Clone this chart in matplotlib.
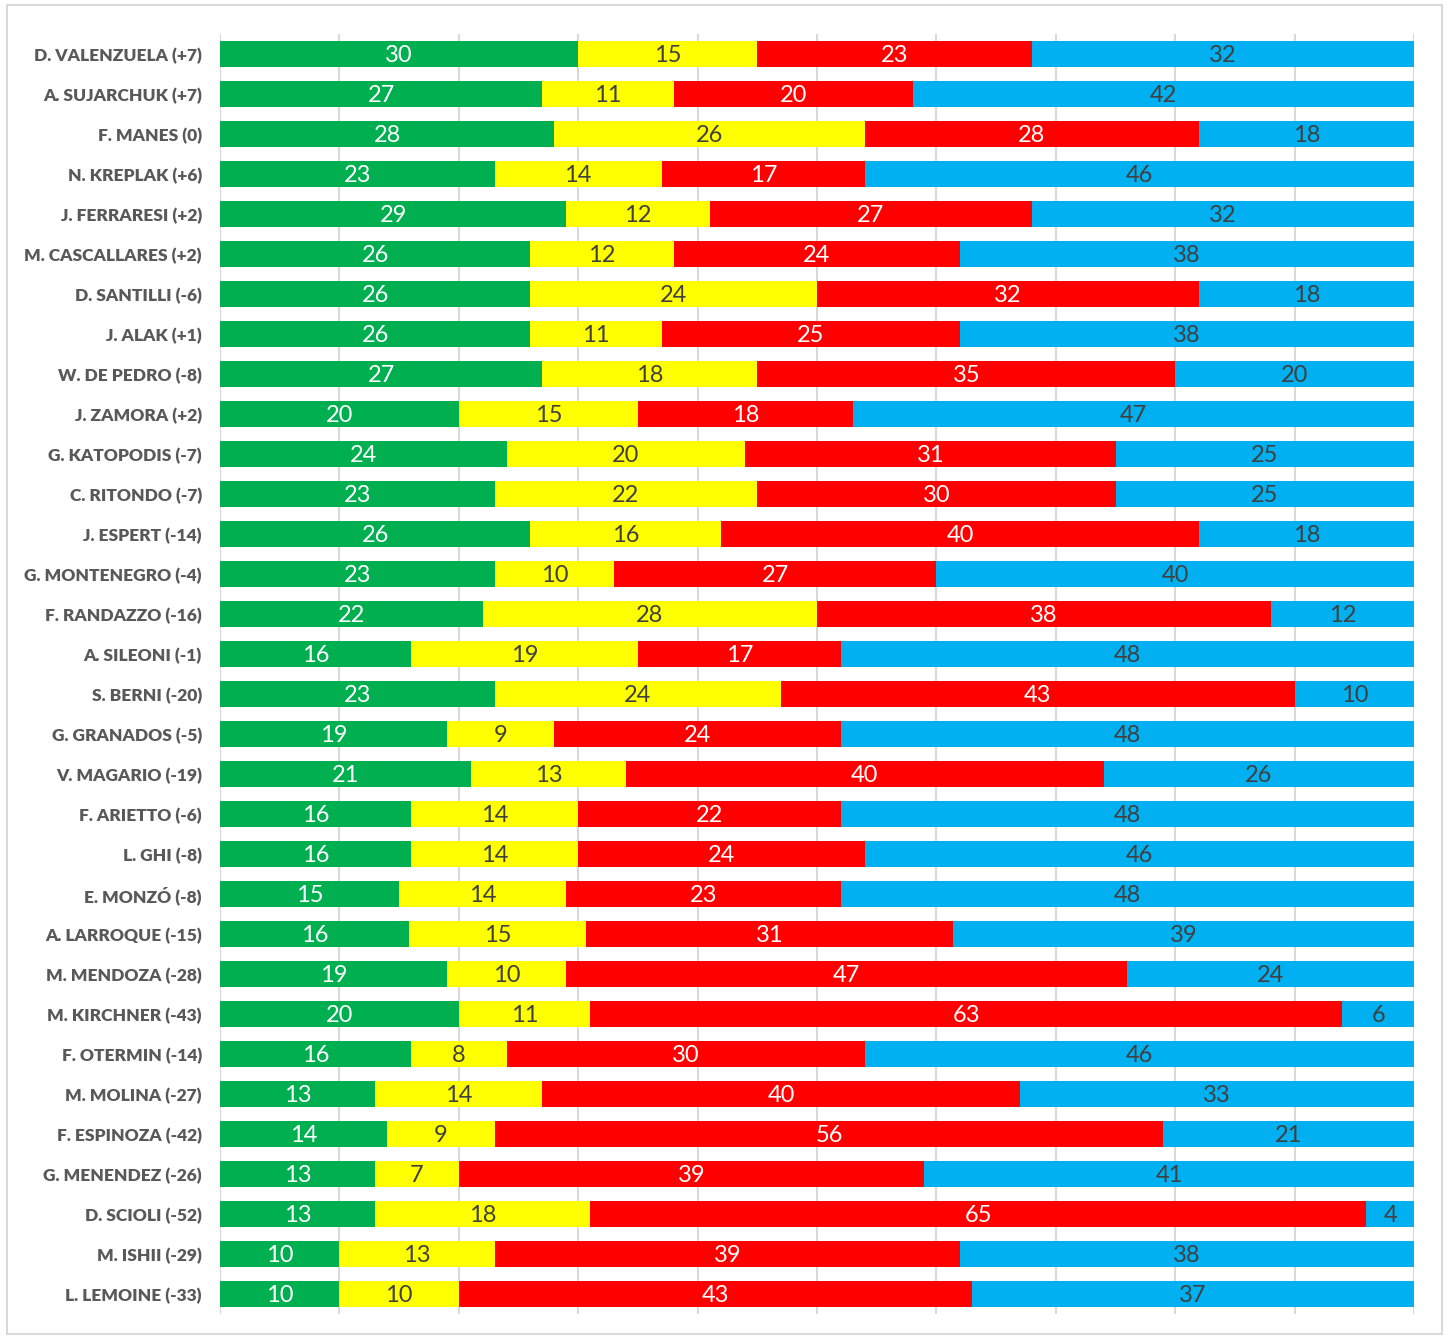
import matplotlib
matplotlib.use("Agg")
import matplotlib.pyplot as plt
import numpy as np
from matplotlib.patches import Rectangle

names = ["D. VALENZUELA (+7)", "A. SUJARCHUK (+7)", "F. MANES (0)", "N. KREPLAK (+6)",
         "J. FERRARESI (+2)", "M. CASCALLARES (+2)", "D. SANTILLI (-6)", "J. ALAK (+1)",
         "W. DE PEDRO (-8)", "J. ZAMORA (+2)", "G. KATOPODIS (-7)", "C. RITONDO (-7)",
         "J. ESPERT (-14)", "G. MONTENEGRO (-4)", "F. RANDAZZO (-16)", "A. SILEONI (-1)",
         "S. BERNI (-20)", "G. GRANADOS (-5)", "V. MAGARIO (-19)", "F. ARIETTO (-6)",
         "L. GHI (-8)", "E. MONZÓ (-8)", "A. LARROQUE (-15)", "M. MENDOZA (-28)",
         "M. KIRCHNER (-43)", "F. OTERMIN (-14)", "M. MOLINA (-27)", "F. ESPINOZA (-42)",
         "G. MENENDEZ (-26)", "D. SCIOLI (-52)", "M. ISHII (-29)", "L. LEMOINE (-33)"]
green = [30, 27, 28, 23, 29, 26, 26, 26, 27, 20, 24, 23, 26, 23, 22, 16,
         23, 19, 21, 16, 16, 15, 16, 19, 20, 16, 13, 14, 13, 13, 10, 10]
yellow = [15, 11, 26, 14, 12, 12, 24, 11, 18, 15, 20, 22, 16, 10, 28, 19,
          24, 9, 13, 14, 14, 14, 15, 10, 11, 8, 14, 9, 7, 18, 13, 10]
red = [23, 20, 28, 17, 27, 24, 32, 25, 35, 18, 31, 30, 40, 27, 38, 17,
       43, 24, 40, 22, 24, 23, 31, 47, 63, 30, 40, 56, 39, 65, 39, 43]
blue = [32, 42, 18, 46, 32, 38, 18, 38, 20, 47, 25, 25, 18, 40, 12, 48,
        10, 48, 26, 48, 46, 48, 39, 24, 6, 46, 33, 21, 41, 4, 38, 37]

series = [green, yellow, red, blue]
colors = ["#00B050", "#FFFF00", "#FF0000", "#00B0F0"]
txtcolors = ["white", "#404040", "white", "#404040"]

FONT = ["Lato", "DejaVu Sans"]
plt.rcParams['font.family'] = FONT

fig = plt.figure(figsize=(14.48, 13.36), dpi=100)
ax = fig.add_axes([220/1448, 1 - 1314/1336, (1414-220)/1448, (1314-34)/1336])

data = np.array(series, dtype=float)
totals = data.sum(axis=0)
pct = data / totals * 100
y = np.arange(len(names))
left = np.zeros(len(names))
for vals, p, c, tc in zip(series, pct, colors, txtcolors):
    ax.barh(y, p, left=left, height=0.64, color=c, edgecolor="none", zorder=2)
    for yi, l, w, v in zip(y, left, p, vals):
        ax.text(l + w / 2, yi + 0.05, str(v), ha="center", va="center",
                color=tc, fontsize=17, zorder=3)
    left = left + p

ax.set_xlim(0, 100)
ax.set_ylim(len(names) - 0.5, -0.5)
ax.set_xticks(np.arange(0, 101, 10))
ax.xaxis.grid(True, color="#D9D9D9", linewidth=1.5, zorder=0)
ax.set_axisbelow(True)
ax.tick_params(axis="x", length=0, labelbottom=False)
ax.set_yticks(y)
ax.set_yticklabels(names, fontsize=12.5, fontweight="heavy", color="#595959")
ax.tick_params(axis="y", length=0, pad=13)
for s in ax.spines.values():
    s.set_visible(False)

fig.patches.append(Rectangle((7/1448, 1 - 1334/1336), (1442-7)/1448, (1334-5)/1336,
                             transform=fig.transFigure, fill=False,
                             edgecolor="#D9D9D9", linewidth=1.5))

fig.savefig("out.png", dpi=100, facecolor="white")
